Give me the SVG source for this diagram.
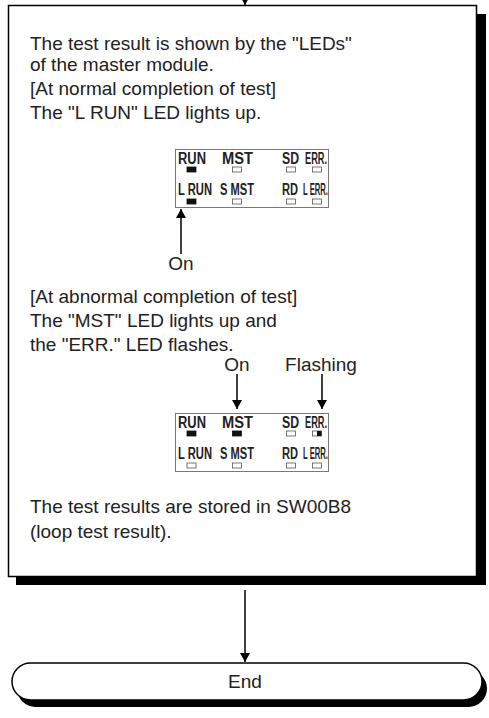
<svg xmlns="http://www.w3.org/2000/svg" width="489" height="718" viewBox="0 0 489 718">
<style>
.t{font-family:"Liberation Sans",Arial,sans-serif;font-size:19px;fill:#222}
.l{font-family:"Liberation Sans",Arial,sans-serif;font-size:16px;font-weight:bold;fill:#222}
.led{fill:#fff;stroke:#555;stroke-width:0.8}
.on{fill:#111;stroke:#111;stroke-width:0.8}
.pan{fill:#fff;stroke:#777;stroke-width:1}
.ln{stroke:#000;stroke-width:1.5;fill:none}
</style>
<defs>
<marker id="ah" markerWidth="10" markerHeight="10" refX="9" refY="5" orient="auto" markerUnits="userSpaceOnUse" viewBox="0 0 10 10">
<path d="M0,0 L9,5 L0,10 Z" fill="#000"/>
</marker>
</defs>
<g id="connectors">
<line class="ln" x1="245" y1="-10" x2="245" y2="5" marker-end="url(#ah)"/>
<line class="ln" x1="245" y1="590" x2="245" y2="662" marker-end="url(#ah)"/>
</g>
<g id="process">
<rect x="16" y="14" width="470" height="571" fill="#000"/>
<rect x="8.5" y="5.5" width="468" height="571" fill="#fff" stroke="#000" stroke-width="1.5"/>
<text class="t" x="30" y="50">The test result is shown by the "LEDs"</text>
<text class="t" x="30" y="71">of the master module.</text>
<text class="t" x="30" y="95">[At normal completion of test]</text>
<text class="t" x="30" y="119">The "L RUN" LED lights up.</text>
<g id="panel1">
<rect class="pan" x="175.5" y="149.5" width="153" height="58"/>
<text class="l" x="178" y="164" textLength="28" lengthAdjust="spacingAndGlyphs">RUN</text>
<text class="l" x="222" y="164" textLength="31" lengthAdjust="spacingAndGlyphs">MST</text>
<text class="l" x="282" y="164" textLength="17" lengthAdjust="spacingAndGlyphs">SD</text>
<text class="l" x="305" y="164" textLength="22" lengthAdjust="spacingAndGlyphs">ERR.</text>
<rect class="on" x="187" y="167" width="9" height="5"/>
<rect class="led" x="232.5" y="167" width="9" height="5"/>
<rect class="led" x="286.5" y="167" width="9" height="5"/>
<rect class="led" x="312.5" y="167" width="9" height="5"/>
<text class="l" x="178" y="195" textLength="34" lengthAdjust="spacingAndGlyphs">L RUN</text>
<text class="l" x="220" y="195" textLength="34" lengthAdjust="spacingAndGlyphs">S MST</text>
<text class="l" x="282" y="195" textLength="16" lengthAdjust="spacingAndGlyphs">RD</text>
<text class="l" x="303" y="195" textLength="25" lengthAdjust="spacingAndGlyphs">L ERR.</text>
<rect class="on" x="187" y="199" width="9" height="5"/>
<rect class="led" x="232.5" y="199" width="9" height="5"/>
<rect class="led" x="286.5" y="199" width="9" height="5"/>
<rect class="led" x="312.5" y="199" width="9" height="5"/>
</g>
<line class="ln" x1="181" y1="254" x2="181" y2="209" marker-end="url(#ah)"/>
<text class="t" x="181" y="270" text-anchor="middle">On</text>
<text class="t" x="30" y="303">[At abnormal completion of test]</text>
<text class="t" x="30" y="327">The "MST" LED lights up and</text>
<text class="t" x="30" y="351">the "ERR." LED flashes.</text>
<text class="t" x="237" y="371" text-anchor="middle">On</text>
<text class="t" x="321" y="371" text-anchor="middle">Flashing</text>
<line class="ln" x1="237" y1="374" x2="237" y2="409" marker-end="url(#ah)"/>
<line class="ln" x1="322" y1="374" x2="322" y2="409" marker-end="url(#ah)"/>
<g id="panel2">
<rect class="pan" x="175.5" y="413.5" width="153" height="58"/>
<text class="l" x="178" y="428" textLength="28" lengthAdjust="spacingAndGlyphs">RUN</text>
<text class="l" x="222" y="428" textLength="31" lengthAdjust="spacingAndGlyphs">MST</text>
<text class="l" x="282" y="428" textLength="17" lengthAdjust="spacingAndGlyphs">SD</text>
<text class="l" x="305" y="428" textLength="22" lengthAdjust="spacingAndGlyphs">ERR.</text>
<rect class="on" x="187" y="431" width="9" height="5"/>
<rect class="on" x="232.5" y="431" width="9" height="5"/>
<rect class="led" x="286.5" y="431" width="9" height="5"/>
<rect class="led" x="312.5" y="431" width="9" height="5"/>
<rect x="317" y="431" width="4.5" height="5" fill="#111"/>
<text class="l" x="178" y="459" textLength="34" lengthAdjust="spacingAndGlyphs">L RUN</text>
<text class="l" x="220" y="459" textLength="34" lengthAdjust="spacingAndGlyphs">S MST</text>
<text class="l" x="282" y="459" textLength="16" lengthAdjust="spacingAndGlyphs">RD</text>
<text class="l" x="303" y="459" textLength="25" lengthAdjust="spacingAndGlyphs">L ERR.</text>
<rect class="led" x="187" y="463" width="9" height="5"/>
<rect class="led" x="232.5" y="463" width="9" height="5"/>
<rect class="led" x="286.5" y="463" width="9" height="5"/>
<rect class="led" x="312.5" y="463" width="9" height="5"/>
</g>
<text class="t" x="30" y="513">The test results are stored in SW00B8</text>
<text class="t" x="30" y="538">(loop test result).</text>
</g>
<g id="end">
<rect x="17" y="670" width="470" height="37" rx="18.5" fill="#000"/>
<rect x="12" y="663" width="470" height="37" rx="18.5" fill="#fff" stroke="#000" stroke-width="1.5"/>
<text class="t" x="245" y="688" text-anchor="middle">End</text>
</g>
</svg>
